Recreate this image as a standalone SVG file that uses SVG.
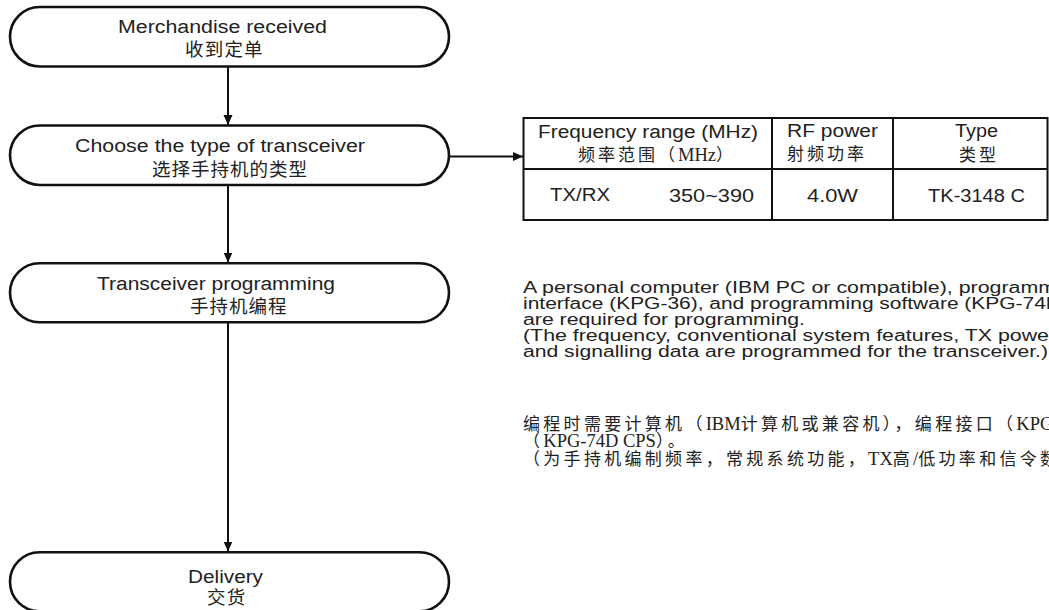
<svg xmlns="http://www.w3.org/2000/svg" width="1049" height="610" viewBox="0 0 1049 610">
<defs>
<marker id="arr" markerUnits="userSpaceOnUse" markerWidth="10" markerHeight="10" refX="10" refY="5" orient="auto" viewBox="0 0 10 10"><path d="M0,0.5 L10,5 L0,9.5 z" fill="#111"/></marker>
<style>
.node{fill:#fff;stroke:#111;stroke-width:2.6}
.en{font-family:"Liberation Sans",Arial,sans-serif;font-size:18px;fill:#222}
.cn{font-family:"Noto Sans CJK SC",sans-serif;font-size:18.5px;fill:#222;letter-spacing:1.2px}
.tcn{font-family:"Liberation Serif","Noto Sans CJK SC",serif;font-size:17px;fill:#222;letter-spacing:3px}
.par{font-family:"Liberation Sans",Arial,sans-serif;font-size:16px;fill:#222}
.pcn{font-family:"Liberation Serif","Noto Sans CJK SC",serif;font-size:17px;fill:#222;letter-spacing:3.3px}
.lat{letter-spacing:0;font-size:18.5px}
.conn{stroke:#111;stroke-width:2;fill:none}
.tbl{stroke:#111;stroke-width:2;fill:#fff}
</style>
</defs>
<rect width="1049" height="610" fill="#fff"/>
<g id="connectors">
<path class="conn" d="M228,67 V125" marker-end="url(#arr)"/>
<path class="conn" d="M228,185 V262.5" marker-end="url(#arr)"/>
<path class="conn" d="M228,322 V551.5" marker-end="url(#arr)"/>
<path class="conn" d="M449,156.5 H523" marker-end="url(#arr)"/>
</g>
<g id="node-received">
<rect class="node" x="10" y="7" width="439" height="59.5" rx="29.75"/>
<text class="en" x="118" y="33" textLength="209" lengthAdjust="spacingAndGlyphs">Merchandise received</text>
<text class="cn" x="185" y="56">收到定单</text>
</g>
<g id="node-choose">
<rect class="node" x="10" y="125.5" width="439" height="59.5" rx="29.75"/>
<text class="en" x="75" y="152" textLength="290" lengthAdjust="spacingAndGlyphs">Choose the type of transceiver</text>
<text class="cn" x="152" y="176" style="letter-spacing:1px">选择手持机的类型</text>
</g>
<g id="node-programming">
<rect class="node" x="10" y="263.3" width="439" height="59" rx="29.5"/>
<text class="en" x="97" y="290" textLength="238" lengthAdjust="spacingAndGlyphs">Transceiver programming</text>
<text class="cn" x="190" y="313" style="letter-spacing:1px">手持机编程</text>
</g>
<g id="node-delivery">
<rect class="node" x="10" y="552.3" width="439" height="59" rx="29.5"/>
<text class="en" x="188" y="582.5" textLength="75" lengthAdjust="spacingAndGlyphs">Delivery</text>
<text class="cn" x="207" y="604">交货</text>
</g>
<g id="table">
<rect class="tbl" x="523.5" y="118" width="524" height="102"/>
<path class="tbl" d="M523.5,169 H1047.5 M772,118 V220 M893,118 V220"/>
<text class="en" x="538" y="138" textLength="220" lengthAdjust="spacingAndGlyphs">Frequency range (MHz)</text>
<text class="tcn" x="578" y="161">频率范围（<tspan class="lat">MHz</tspan>）</text>
<text class="en" x="787" y="137" textLength="91" lengthAdjust="spacingAndGlyphs">RF power</text>
<text class="tcn" x="787" y="160">射频功率</text>
<text class="en" x="955" y="137" textLength="43" lengthAdjust="spacingAndGlyphs">Type</text>
<text class="tcn" x="959" y="161">类型</text>
<text class="en" x="550" y="200.5" textLength="60" lengthAdjust="spacingAndGlyphs">TX/RX</text>
<text class="en" x="669" y="201.5" textLength="85" lengthAdjust="spacingAndGlyphs">350~390</text>
<text class="en" x="807" y="201.5" textLength="51" lengthAdjust="spacingAndGlyphs">4.0W</text>
<text class="en" x="928" y="201.5" textLength="97" lengthAdjust="spacingAndGlyphs">TK-3148 C</text>
</g>
<g id="notes-en">
<text class="par" x="523" y="293" textLength="533" lengthAdjust="spacingAndGlyphs">A personal computer (IBM PC or compatible), programm</text>
<text class="par" x="523" y="309" textLength="538" lengthAdjust="spacingAndGlyphs">interface (KPG-36), and programming software (KPG-74D</text>
<text class="par" x="523" y="325" textLength="282" lengthAdjust="spacingAndGlyphs">are required for programming.</text>
<text class="par" x="523" y="341" textLength="526" lengthAdjust="spacingAndGlyphs">(The frequency, conventional system features, TX powe</text>
<text class="par" x="523" y="357" textLength="525" lengthAdjust="spacingAndGlyphs">and signalling data are programmed for the transceiver.)</text>
</g>
<g id="notes-cn">
<text class="pcn" x="523" y="430">编程时需要计算机（<tspan class="lat">IBM</tspan>计算机或兼容机），编程接口（<tspan class="lat">KPG</tspan></text>
<text class="pcn" x="523" y="447">（<tspan class="lat">KPG-74D CPS</tspan>）。</text>
<text class="pcn" x="523" y="465">（为手持机编制频率，常规系统功能，<tspan class="lat">TX</tspan>高<tspan class="lat">/</tspan>低功率和信令数</text>
</g>
</svg>
